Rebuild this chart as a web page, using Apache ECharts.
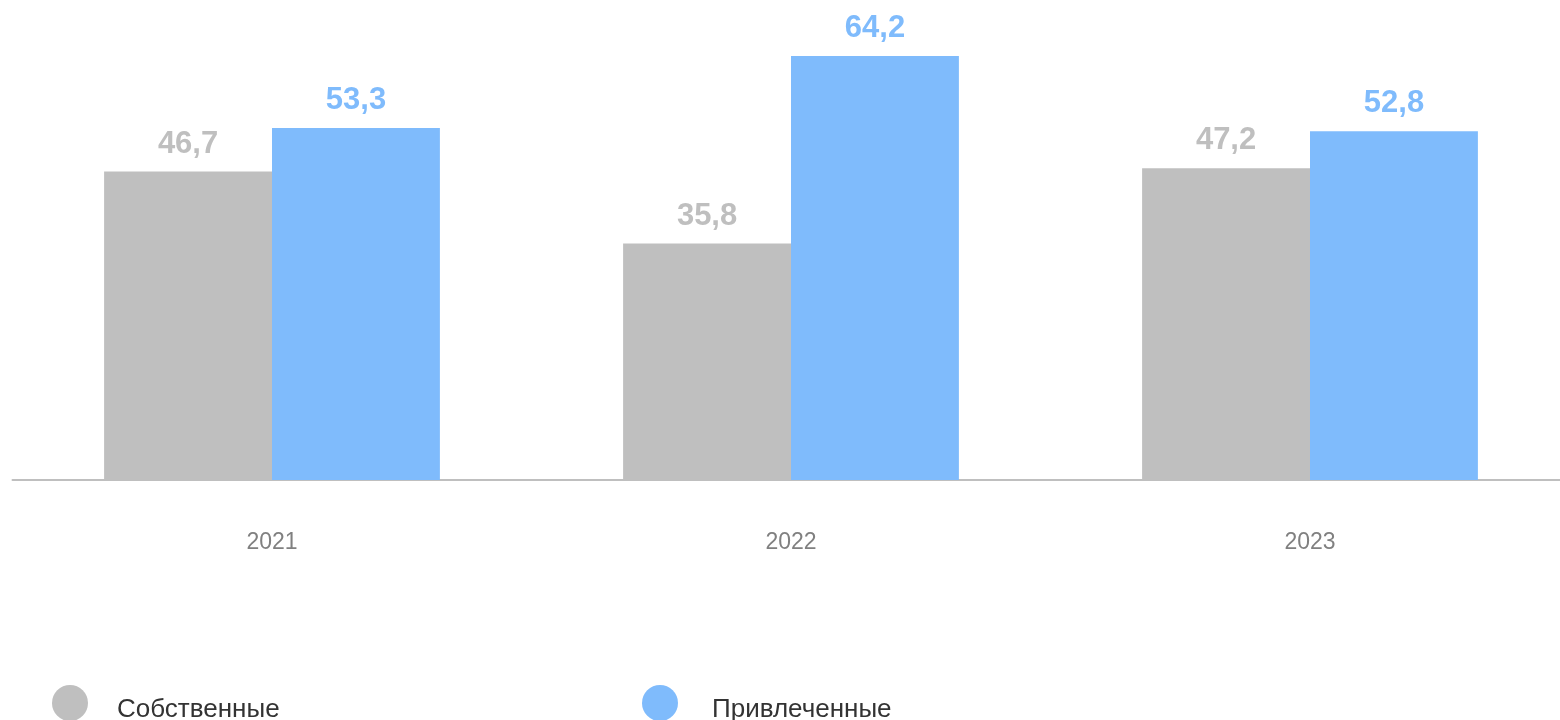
<!DOCTYPE html>
<html><head><meta charset="utf-8">
<script src="https://cdn.jsdelivr.net/npm/echarts@6/dist/echarts.min.js"></script>
<style>html,body{margin:0;padding:0;background:#fff}#c{width:1560px;height:720px}</style>
</head><body><div id="c"></div>
<script>
const categories = ['2021', '2022', '2023'];
const seriesNames = ['Собственные', 'Привлеченные'];
const ownValues = [46.7, 35.8, 47.2];
const borrowedValues = [53.3, 64.2, 52.8];

const chart = echarts.init(document.getElementById('c'));
const fmt = p => String(p.value).replace('.', ',');
const font = 'Arial, "Liberation Sans", sans-serif';
const legendText = (padLeft) => ({
  fontSize: 26, color: '#333333', fontFamily: font,
  rich: { t: { fontSize: 26, color: '#333333', fontFamily: font, padding: [13, 0, 0, padLeft] } }
});
chart.setOption({
  animation: false,
  grid: { left: 12.5, width: 1557, top: 17.7, height: 462.3, outerBoundsMode: 'none', containLabel: false },
  xAxis: {
    type: 'category', data: categories,
    axisLine: { lineStyle: { color: '#bfbfbf', width: 2 } },
    axisTick: { show: false },
    axisLabel: { color: '#808080', fontSize: 23, fontFamily: font, margin: 51 }
  },
  yAxis: { type: 'value', min: 0, max: 70, show: false, splitLine: { show: false } },
  legend: [
    { data: [seriesNames[0]], left: 52, top: 685, padding: 0, icon: 'circle', itemWidth: 36, itemHeight: 36,
      formatter: '{t|{name}}', textStyle: legendText(24) },
    { data: [seriesNames[1]], left: 642, top: 685, padding: 0, icon: 'circle', itemWidth: 36, itemHeight: 36,
      formatter: '{t|{name}}', textStyle: legendText(29) }
  ],
  series: [
    { name: seriesNames[0], type: 'bar', data: ownValues, barGap: '0%', barCategoryGap: '35.3%',
      itemStyle: { color: '#bfbfbf' },
      label: { show: true, position: 'top', distance: 12, formatter: fmt, color: '#bfbfbf',
        fontSize: 31, fontWeight: 'bold', fontFamily: font } },
    { name: seriesNames[1], type: 'bar', data: borrowedValues,
      itemStyle: { color: '#7fbbfc' },
      label: { show: true, position: 'top', distance: 12, formatter: fmt, color: '#7fbbfc',
        fontSize: 31, fontWeight: 'bold', fontFamily: font } }
  ]
});
</script></body></html>
